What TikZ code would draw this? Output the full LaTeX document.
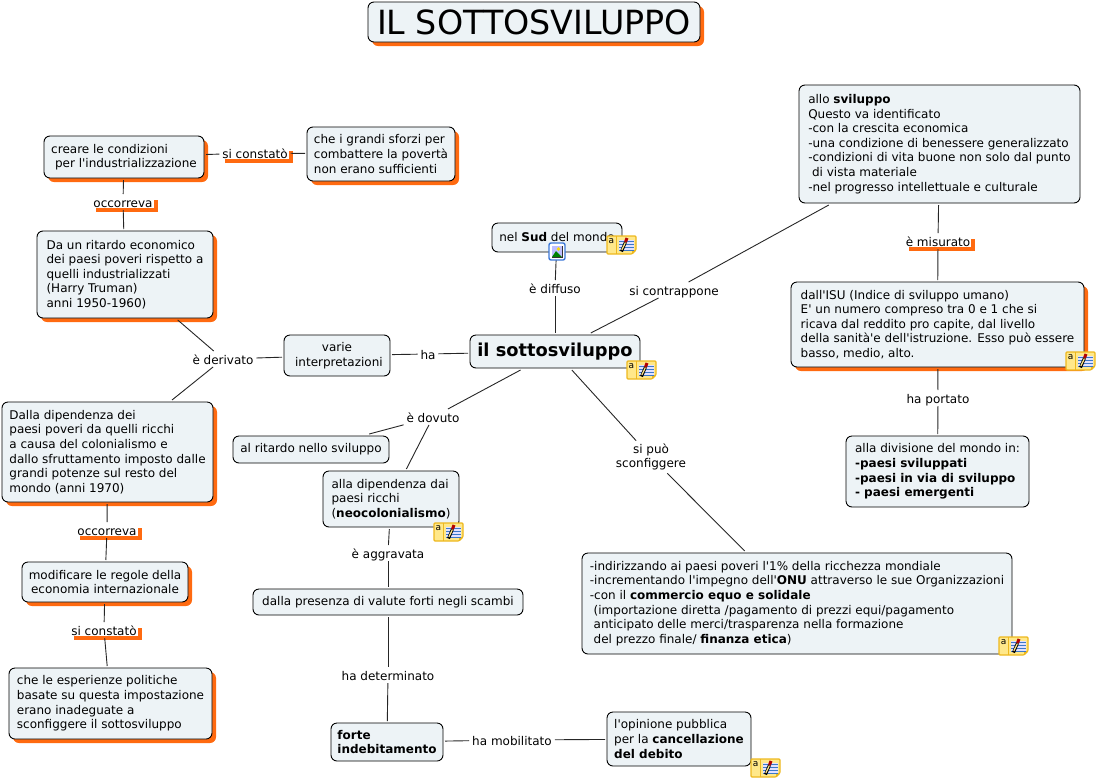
\documentclass[tikz,border=0pt]{standalone}
\usepackage{fontspec}
\setmainfont{DejaVu Sans}[Ligatures=TeXOff]
\usetikzlibrary{shadows}
\definecolor{boxfill}{HTML}{EDF3F6}
\definecolor{shadoworange}{HTML}{FF6A10}
\definecolor{noteyellow}{HTML}{FFE88A}
\definecolor{noteedge}{HTML}{EDB81E}
\definecolor{notelines}{HTML}{3C78C8}
\definecolor{imgblue}{HTML}{3C78D8}

\begin{document}
\begin{tikzpicture}[
  x=1pt, y=-1pt,
  concept/.style={
    draw=black, fill=boxfill, line width=0.9pt, rounded corners=6pt,
    font=\fontsize{12}{14.6}\selectfont, align=left,
    anchor=north west, inner sep=0pt, outer sep=2pt,
    xshift=-2pt, yshift=1pt,
  },
  orangebox/.style={
    copy shadow={fill=shadoworange, draw=none, opacity=1,
      shadow xshift=4pt, shadow yshift=-4pt},
  },
  twolabel/.style={
    fill=white, font=\fontsize{12}{14.6}\selectfont, align=center,
    inner xsep=1pt, inner ysep=1pt, outer sep=2pt,
  },
  linklabel/.style={
    twolabel, text height=10pt, text depth=0pt,
  },
  orangelabel/.style={
    linklabel,
    copy shadow={fill=shadoworange, draw=none, opacity=1,
      shadow xshift=4pt, shadow yshift=-4pt},
  },
  link/.style={-, line width=0.9pt, black!85},
  noteicon/.pic={
    \path[fill=noteyellow, draw=noteedge, line width=1.2pt, rounded corners=1pt]
      (0,0) -- (29,0) -- (29,14) -- (25,18) -- (0,18) -- cycle;
    \draw[noteedge, line width=0.5pt] (9,0) -- (9,18);
    \fill[noteedge] (29,14) -- (25,14) -- (25,18) -- cycle;
    \fill[blue!12] (12,3.5) rectangle (27,14);
    \node[font=\fontsize{9}{9}\selectfont, inner sep=0pt] (a) at (4.5,5.5) {a};
    \foreach \ly in {5,8,11,14} {
      \draw[notelines, line width=0.8pt] (12,\ly) -- (27,\ly);
    }
    \draw[black, line width=3pt] (14.5,15.5) -- (18.5,6);
    \draw[noteyellow, line width=1.2pt] (14.8,14) -- (18.4,6.5);
    \draw[red!70!black, line width=3pt] (18.5,6) -- (20,2);
  },
  imageicon/.pic={
    \path[fill=white, draw=imgblue, line width=1.4pt, rounded corners=2pt]
      (0,0) rectangle (16,17);
    \fill[black!80] (2.5,2.5) rectangle (13.5,14.5);
    \fill[white!75!blue] (3.2,3.2) rectangle (12.8,13.8);
    \fill[yellow!80!orange] (9.5,6) circle (1.8);
    \fill[green!50!black] (3.2,13.8) -- (7,8) -- (12.8,13.8) -- cycle;
  },
]
  \useasboundingbox (0,0) rectangle (1098,780);

  % concepts
  \node[concept, orangebox, minimum width=332pt, minimum height=40pt, align=center,
    font=\fontsize{33.3}{38}\selectfont] (title) at (368,1) {IL SOTTOSVILUPPO};
  \node[concept, minimum width=281pt, minimum height=118pt] (sviluppo) at (799,84)
    {allo \textbf{sviluppo}\\Questo va identificato\\-con la crescita economica\\-una condizione di benessere generalizzato\\-condizioni di vita buone non solo dal punto\\\ di vista materiale\\-nel progresso intellettuale e culturale};
  \node[concept, orangebox, minimum width=293pt, minimum height=85pt] (isu) at (791,281)
    {dall'ISU (Indice di sviluppo umano)\\E' un numero compreso tra 0 e 1 che si\\ricava dal reddito pro capite, dal livello\\della sanità'e dell'istruzione. Esso può essere\\basso, medio, alto.};
  \node[concept, minimum width=183pt, minimum height=71pt] (divisione) at (846,435)
    {alla divisione del mondo in:\\\textbf{-paesi sviluppati}\\\textbf{-paesi in via di sviluppo}\\\textbf{- paesi emergenti}};
  \node[concept, minimum width=130pt, minimum height=29pt] (sud) at (492,222)
    {nel \textbf{Sud} del mondo};
  \node[concept, minimum width=170pt, minimum height=33pt,
    font=\fontsize{17.8}{20}\selectfont\bfseries] (sottosviluppo) at (470,334) {il sottosviluppo};
  \node[concept, minimum width=106pt, minimum height=41pt, align=center] (varie) at (284,334)
    {varie\\\ interpretazioni};
  \node[concept, orangebox, minimum width=160pt, minimum height=42pt] (creare) at (44,135)
    {creare le condizioni\\\ per l'industrializzazione};
  \node[concept, orangebox, minimum width=148pt, minimum height=54pt] (sforzi) at (307,126)
    {che i grandi sforzi per\\combattere la povertà\\non erano sufficienti};
  \node[concept, orangebox, minimum width=176pt, minimum height=87pt] (ritardo) at (37,230)
    {Da un ritardo economico\\dei paesi poveri rispetto a\\quelli industrializzati\\(Harry Truman)\\anni 1950-1960)};
  \node[concept, orangebox, minimum width=211pt, minimum height=100pt] (dalla) at (2,401)
    {Dalla dipendenza dei\\paesi poveri da quelli ricchi\\a causa del colonialismo e\\dallo sfruttamento imposto dalle\\grandi potenze sul resto del\\mondo (anni 1970)};
  \node[concept, orangebox, minimum width=166pt, minimum height=40pt, align=center] (regole) at (22,561)
    {modificare le regole della\\economia internazionale};
  \node[concept, orangebox, minimum width=203pt, minimum height=71pt] (esperienze) at (9,667)
    {che le esperienze politiche\\basate su questa impostazione\\erano inadeguate a\\sconfiggere il sottosviluppo};
  \node[concept, minimum width=156pt, minimum height=27pt] (alritardo) at (233,435)
    {al ritardo nello sviluppo};
  \node[concept, minimum width=136pt, minimum height=56pt] (dipendenza) at (323,470)
    {alla dipendenza dai\\paesi ricchi\\(\textbf{neocolonialismo})};
  \node[concept, minimum width=270pt, minimum height=26pt] (valute) at (253,588)
    {dalla presenza di valute forti negli scambi};
  \node[concept, minimum width=112pt, minimum height=38pt] (debito) at (331,722)
    {\textbf{forte}\\\textbf{indebitamento}};
  \node[concept, minimum width=144pt, minimum height=54pt] (opinione) at (607,711)
    {l'opinione pubblica\\per la \textbf{cancellazione}\\\textbf{del debito}};
  \node[concept, minimum width=430pt, minimum height=101pt] (azioni) at (582,552)
    {-indirizzando ai paesi poveri l'1\% della ricchezza mondiale\\-incrementando l'impegno dell'\textbf{ONU} attraverso le sue Organizzazioni\\-con il \textbf{commercio equo e solidale}\\\ (importazione diretta /pagamento di prezzi equi/pagamento\\\ anticipato delle merci/trasparenza nella formazione\\\ del prezzo finale/ \textbf{finanza etica})};

  % linking phrases
  \node[linklabel] (diffuso) at (555,288) {è diffuso};
  \node[linklabel] (contrappone) at (674,290) {si contrappone};
  \node[orangelabel] (misurato) at (938,241) {è misurato};
  \node[linklabel] (portato) at (938,398) {ha portato};
  \node[linklabel] (ha) at (428,354) {ha};
  \node[linklabel] (derivato) at (223,359) {è derivato};
  \node[orangelabel] (occorreva) at (123,202) {occorreva};
  \node[orangelabel] (constato) at (255,153) {si constatò};
  \node[orangelabel] (occorrevab) at (107,530) {occorreva};
  \node[orangelabel] (constatob) at (104,630) {si constatò};
  \node[linklabel] (dovuto) at (433,417) {è dovuto};
  \node[twolabel] (sconfiggere) at (651,457) {si può\\sconfiggere};
  \node[linklabel] (aggravata) at (388,553) {è aggravata};
  \node[linklabel] (determinato) at (388,675) {ha determinato};
  \node[linklabel] (mobilitato) at (512,740) {ha mobilitato};

  % connectors
  \draw[link] (sud) -- (diffuso);
  \draw[link] (diffuso) -- (sottosviluppo);
  \draw[link] (sottosviluppo) -- (contrappone);
  \draw[link] (contrappone) -- (sviluppo);
  \draw[link] (sviluppo) -- (misurato);
  \draw[link] (misurato) -- (isu);
  \draw[link] (isu) -- (portato);
  \draw[link] (portato) -- (divisione);
  \draw[link] (sottosviluppo) -- (ha);
  \draw[link] (ha) -- (varie);
  \draw[link] (varie) -- (derivato);
  \draw[link] (derivato) -- (ritardo);
  \draw[link] (derivato) -- (dalla);
  \draw[link] (ritardo) -- (occorreva);
  \draw[link] (occorreva) -- (creare);
  \draw[link] (creare) -- (constato);
  \draw[link] (constato) -- (sforzi);
  \draw[link] (dalla) -- (occorrevab);
  \draw[link] (occorrevab) -- (regole);
  \draw[link] (regole) -- (constatob);
  \draw[link] (constatob) -- (esperienze);
  \draw[link] (sottosviluppo) -- (dovuto);
  \draw[link] (dovuto) -- (alritardo);
  \draw[link] (dovuto) -- (dipendenza);
  \draw[link] (dipendenza) -- (aggravata);
  \draw[link] (aggravata) -- (valute);
  \draw[link] (valute) -- (determinato);
  \draw[link] (determinato) -- (debito);
  \draw[link] (debito) -- (mobilitato);
  \draw[link] (mobilitato) -- (opinione);
  \draw[link] (sottosviluppo) -- (sconfiggere);
  \draw[link] (sconfiggere) -- (azioni);

  % icons
  \pic (notesud) at (607,236) {noteicon};
  \pic (notesotto) at (627,361) {noteicon};
  \pic (notedip) at (434,523) {noteicon};
  \pic (noteisu) at (1066,352) {noteicon};
  \pic (noteopin) at (751,759) {noteicon};
  \pic (noteazioni) at (999,637) {noteicon};
  \pic (imgsud) at (549,243) {imageicon};
\end{tikzpicture}
\end{document}
